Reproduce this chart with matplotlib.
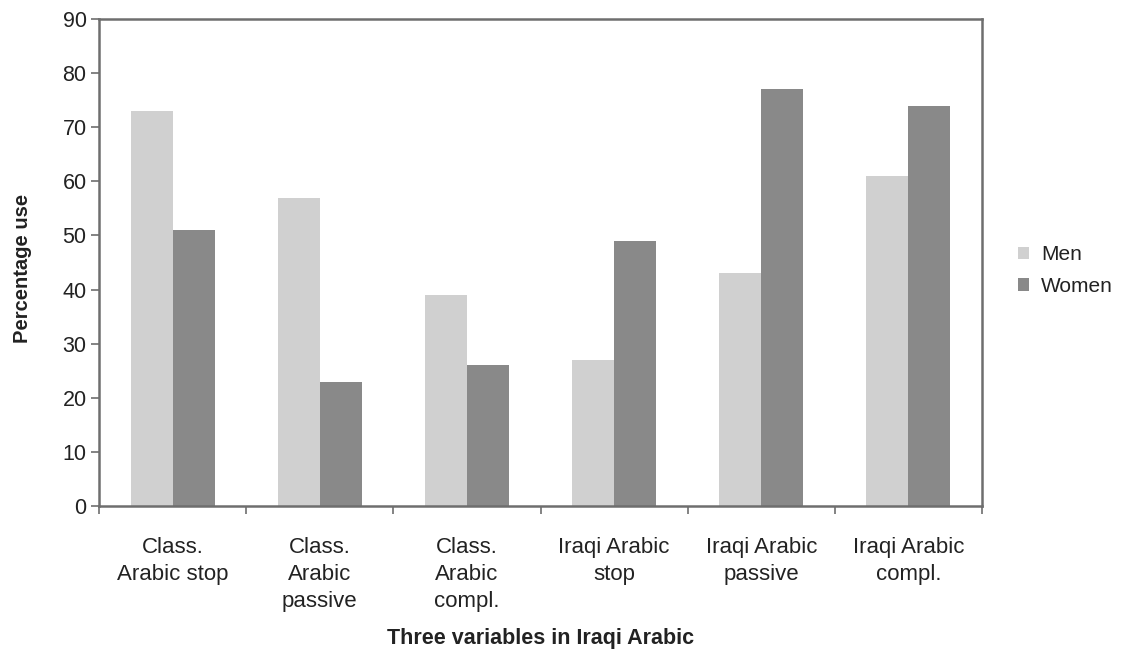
import matplotlib
matplotlib.use("Agg")
import matplotlib.pyplot as plt
import numpy as np

plt.rcParams['font.family'] = ['Liberation Sans', 'DejaVu Sans']

categories = [
    "Class.\nArabic stop",
    "Class.\nArabic\npassive",
    "Class.\nArabic\ncompl.",
    "Iraqi Arabic\nstop",
    "Iraqi Arabic\npassive",
    "Iraqi Arabic\ncompl.",
]
men = [73, 57, 39, 27, 43, 61]
women = [51, 23, 26, 49, 77, 74]
y_ticks = [0, 10, 20, 30, 40, 50, 60, 70, 80, 90]

men_color = "#d0d0d0"
women_color = "#898989"
frame_color = "#6e6e6e"
text_color = "#222222"

W, H = 1124, 653
fig = plt.figure(figsize=(W / 100, H / 100), dpi=100)
ax = fig.add_axes([99 / W, 1 - 506 / H, (982 - 99) / W, (506 - 19) / H])

x = np.arange(len(categories))
bw = 1 / 3.5
ax.bar(x - bw / 2, men, width=bw, color=men_color, label="Men", linewidth=0)
ax.bar(x + bw / 2, women, width=bw, color=women_color, label="Women", linewidth=0)

ax.set_xlim(-0.5, len(categories) - 0.5)
ax.set_ylim(0, 90)
ax.set_yticks(y_ticks)
ax.tick_params(axis='y', direction='out', length=6, width=1.2, color=frame_color,
               labelsize=15.5, labelcolor=text_color, pad=3)

# ticks at the category boundaries, labels at the category centres
ax.set_xticks(np.arange(len(categories) + 1) - 0.5)
ax.set_xticklabels([])
ax.set_xticks(x, minor=True)
ax.set_xticklabels(categories, minor=True, fontsize=16, color=text_color, linespacing=1.36,
                   va='top')
ax.tick_params(axis='x', which='major', direction='out', length=6, width=1.2, color=frame_color)
ax.tick_params(axis='x', which='minor', length=0, pad=22.5)

for s in ax.spines.values():
    s.set_color(frame_color)
    s.set_linewidth(1.8)

ax.set_ylabel("Percentage use", fontsize=14.5, fontweight='bold', color=text_color)
ax.yaxis.set_label_coords((32 - 99) / 883, (506 - 268) / 487)
ax.set_xlabel("Three variables in Iraqi Arabic", fontsize=15.5, fontweight='bold',
              color=text_color, labelpad=12)

leg = fig.legend(*ax.get_legend_handles_labels(), loc='center left',
                 bbox_to_anchor=(1018 / W, 1 - 270.5 / H), frameon=False,
                 fontsize=15, handlelength=0.55, handleheight=0.55, handletextpad=0.55,
                 labelspacing=0.6, borderaxespad=0, borderpad=0)
for t in leg.get_texts():
    t.set_color(text_color)

fig.savefig("out.png", dpi=100)
